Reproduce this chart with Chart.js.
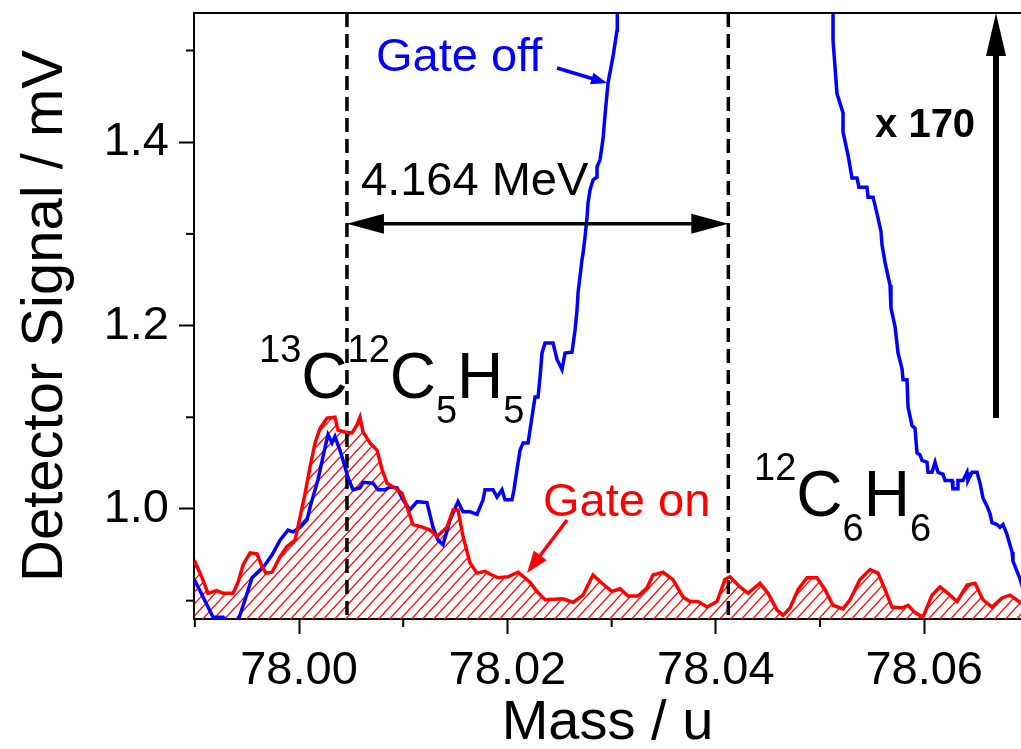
<!DOCTYPE html>
<html>
<head>
<meta charset="utf-8">
<script src="https://cdn.jsdelivr.net/npm/chart.js@4.4.1/dist/chart.umd.min.js"></script>
<style>
html,body{margin:0;padding:0;background:#ffffff;}
#wrap{width:1021px;height:749px;position:relative;}
</style>
</head>
<body>
<div id="wrap"><canvas id="c" width="1021" height="749"></canvas></div>
<script>
// ---------- data ----------
const gateOnMass = [
  77.98995, 77.99066, 77.99127, 77.99210, 77.99271, 77.99367, 77.99415, 77.99463, 77.99530, 77.99597,
  77.99645, 77.99683, 77.99741, 77.99818, 77.99885, 77.99962, 78.00010, 78.00058, 78.00106, 78.00154,
  78.00202, 78.00269, 78.00345, 78.00374, 78.00441, 78.00509, 78.00557, 78.00585, 78.00614, 78.00681,
  78.00749, 78.00797, 78.00845, 78.00921, 78.00988, 78.01046, 78.01094, 78.01190, 78.01257, 78.01324,
  78.01420, 78.01478, 78.01526, 78.01574, 78.01641, 78.01708, 78.01785, 78.01852, 78.01910, 78.02006,
  78.02102, 78.02217, 78.02284, 78.02361, 78.02534, 78.02630, 78.02725, 78.02821, 78.02908, 78.03004,
  78.03081, 78.03157, 78.03253, 78.03340, 78.03397, 78.03493, 78.03589, 78.03685, 78.03752, 78.03829,
  78.03916, 78.04012, 78.04088, 78.04136, 78.04232, 78.04309, 78.04424, 78.04501, 78.04587, 78.04645,
  78.04712, 78.04789, 78.04875, 78.04971, 78.05048, 78.05125, 78.05221, 78.05288, 78.05384, 78.05480,
  78.05557, 78.05624, 78.05691, 78.05787, 78.05845, 78.05912, 78.05988, 78.06075, 78.06152, 78.06228,
  78.06315, 78.06411, 78.06488, 78.06564, 78.06651, 78.06747, 78.06823, 78.06935
];
const gateOnSignal = [
  0.944, 0.926, 0.908, 0.911, 0.908, 0.908, 0.920, 0.939, 0.952, 0.951,
  0.937, 0.930, 0.931, 0.948, 0.959, 0.966, 0.991, 1.017, 1.046, 1.072,
  1.088, 1.099, 1.100, 1.086, 1.084, 1.083, 1.092, 1.100, 1.084, 1.072,
  1.064, 1.043, 1.028, 1.023, 1.017, 0.999, 0.983, 0.980, 0.977, 0.970,
  0.980, 0.999, 0.999, 0.970, 0.941, 0.930, 0.932, 0.928, 0.925, 0.926,
  0.931, 0.920, 0.910, 0.901, 0.902, 0.898, 0.906, 0.928, 0.919, 0.910,
  0.913, 0.905, 0.905, 0.914, 0.928, 0.931, 0.923, 0.904, 0.899, 0.899,
  0.893, 0.899, 0.923, 0.926, 0.915, 0.908, 0.919, 0.908, 0.890, 0.884,
  0.892, 0.912, 0.925, 0.925, 0.912, 0.895, 0.891, 0.901, 0.923, 0.934,
  0.930, 0.912, 0.893, 0.892, 0.895, 0.887, 0.882, 0.906, 0.915, 0.908,
  0.899, 0.917, 0.919, 0.901, 0.893, 0.903, 0.906, 0.897
];

const gateOffMass = [
  77.98995, 77.99079, 77.99175, 77.99271, 77.99319, 77.99415, 77.99482, 77.99549, 77.99597, 77.99655,
  77.99741, 77.99818, 77.99894, 77.99942, 78.00010, 78.00077, 78.00106, 78.00144, 78.00182, 78.00230,
  78.00278, 78.00317, 78.00345, 78.00393, 78.00441, 78.00470, 78.00518, 78.00585, 78.00614, 78.00710,
  78.00758, 78.00825, 78.00873, 78.00941, 78.00998, 78.01065, 78.01132, 78.01228, 78.01286, 78.01334,
  78.01382, 78.01449, 78.01526, 78.01574, 78.01641, 78.01708, 78.01766, 78.01785, 78.01862, 78.01900,
  78.01948, 78.01977, 78.02044, 78.02063, 78.02092, 78.02121, 78.02150, 78.02198, 78.02217, 78.02246,
  78.02265, 78.02294, 78.02313, 78.02332, 78.02361, 78.02438, 78.02476, 78.02524, 78.02553, 78.02620,
  78.02649, 78.02668, 78.02678, 78.02716, 78.02726, 78.02745, 78.02764, 78.02774, 78.02793, 78.02822,
  78.02860, 78.02860, 78.02889, 78.02918, 78.02937, 78.02966, 78.03013, 78.03052, 78.03052, 78.03057,
  78.04000,
  78.05115, 78.05125, 78.05125, 78.05163, 78.05221, 78.05221, 78.05269, 78.05307, 78.05355, 78.05374,
  78.05451, 78.05461, 78.05509, 78.05547, 78.05585, 78.05595, 78.05624, 78.05672, 78.05681, 78.05720,
  78.05749, 78.05787, 78.05797, 78.05835, 78.05845, 78.05883, 78.05912, 78.05931, 78.05960, 78.05979,
  78.06027, 78.06037, 78.06075, 78.06104, 78.06133, 78.06180, 78.06200, 78.06267, 78.06276, 78.06315,
  78.06324, 78.06372, 78.06411, 78.06420, 78.06459, 78.06507, 78.06536, 78.06564, 78.06603, 78.06631,
  78.06651, 78.06699, 78.06727, 78.06756, 78.06795, 78.06843, 78.06852, 78.06891, 78.06919, 78.06967
];
const gateOffSignal = [
  0.923, 0.904, 0.882, 0.882, 0.878, 0.878, 0.901, 0.925, 0.930, 0.936,
  0.950, 0.966, 0.977, 0.975, 0.980, 0.988, 1.002, 1.017, 1.032, 1.057,
  1.081, 1.072, 1.079, 1.064, 1.046, 1.034, 1.021, 1.023, 1.029, 1.028,
  1.021, 1.021, 1.024, 1.023, 1.010, 0.999, 1.008, 1.007, 0.980, 0.966,
  0.961, 0.988, 1.008, 0.997, 0.997, 0.994, 1.010, 1.021, 1.021, 1.013,
  1.021, 1.010, 1.010, 1.021, 1.043, 1.064, 1.072, 1.072, 1.086, 1.108,
  1.122, 1.122, 1.144, 1.170, 1.181, 1.181, 1.163, 1.152, 1.170, 1.171,
  1.195, 1.217, 1.236, 1.272, 1.279, 1.297, 1.318, 1.334, 1.348, 1.359,
  1.362, 1.373, 1.381, 1.404, 1.430, 1.465, 1.493, 1.522, 1.541, 1.560,
  null,
  1.560, 1.540, 1.511, 1.453, 1.432, 1.411, 1.386, 1.361, 1.361, 1.351,
  1.351, 1.340, 1.340, 1.322, 1.303, 1.288, 1.269, 1.244, 1.219, 1.199,
  1.170, 1.153, 1.141, 1.141, 1.111, 1.091, 1.088, 1.061, 1.059, 1.053,
  1.051, 1.040, 1.040, 1.051, 1.040, 1.038, 1.031, 1.031, 1.022, 1.022,
  1.031, 1.031, 1.040, 1.031, 1.040, 1.040, 1.028, 1.012, 1.003, 0.995,
  0.985, 0.983, 0.980, 0.983, 0.972, 0.953, 0.943, 0.932, 0.924, 0.906
];

const xTickLabels = ['78.00', '78.02', '78.04', '78.06'];
const yTickLabels = ['1.0', '1.2', '1.4'];
const markerMass = [78.0046, 78.0412];   // dashed vertical lines

// ---------- styling ----------
const FONT = "'Liberation Sans', Arial, Helvetica, sans-serif";
Chart.defaults.font.family = FONT;
Chart.defaults.color = '#000';

const ann = {
  mevArrowY: 1.311,
  mevText: { x: 78.00595, y: 1.3424, text: '4.164 MeV' },
  gateOff: { x: 78.00739, y: 1.4776, text: 'Gate off', from: [78.02476, 1.4809], to: [78.02956, 1.4646] },
  gateOn: { x: 78.02342, y: 0.9924, text: 'Gate on', from: [78.02572, 0.9880], to: [78.02188, 0.9302] },
  factor: { x: 78.06689, y0: 1.0992, y1: 1.5409, text: 'x 170', tx: 78.05528, ty: 1.4057 },
  f1: { x: 77.99616, y: 1.1210, parts: [['13', 'sup'], ['C', ''], ['12', 'sup'], ['C', ''], ['5', 'sub'], ['H', ''], ['5', 'sub']] },
  f2: { x: 78.04367, y: 0.9924, parts: [['12', 'sup'], ['C', ''], ['6', 'sub'], ['H', ''], ['6', 'sub']] }
};

const canvas = document.getElementById('c');
const ctx0 = canvas.getContext('2d');

function makeHatch() {
  const w = 11, h = 12;
  const c = document.createElement('canvas');
  c.width = w; c.height = h;
  const g = c.getContext('2d');
  g.strokeStyle = '#ff0000';
  g.lineWidth = 1.2;
  for (const k of [-1, 0, 1]) {
    g.beginPath();
    g.moveTo(-1, h + k * h + h / w);
    g.lineTo(w + 1, k * h - h / w);
    g.stroke();
  }
  return ctx0.createPattern(c, 'repeat');
}

const gateOn = gateOnMass.map((m, i) => ({ x: m, y: gateOnSignal[i] }));
const gateOff = gateOffMass.map((m, i) => ({ x: m, y: gateOffSignal[i] }));

const isMajorX = v => xTickLabels.includes((Math.round(v * 100) / 100).toFixed(2));
const isMajorY = v => yTickLabels.includes((Math.round(v * 10) / 10).toFixed(1));

function arrowHead(ctx, x1, y1, x2, y2, len, half) {
  const a = Math.atan2(y2 - y1, x2 - x1);
  const bx = x2 - Math.cos(a) * len, by = y2 - Math.sin(a) * len;
  ctx.beginPath();
  ctx.moveTo(x2, y2);
  ctx.lineTo(bx + Math.sin(a) * half, by - Math.cos(a) * half);
  ctx.lineTo(bx - Math.sin(a) * half, by + Math.cos(a) * half);
  ctx.closePath();
  ctx.fill();
  return [bx, by];
}

function arrow(ctx, x1, y1, x2, y2, lw, len, half, color) {
  ctx.strokeStyle = color; ctx.fillStyle = color; ctx.lineWidth = lw; ctx.setLineDash([]);
  const [bx, by] = arrowHead(ctx, x1, y1, x2, y2, len, half);
  const a = Math.atan2(y2 - y1, x2 - x1);
  ctx.beginPath();
  ctx.moveTo(x1, y1);
  ctx.lineTo(bx + Math.cos(a) * 2, by + Math.sin(a) * 2);
  ctx.stroke();
}

function drawFormula(ctx, f, xs, ys) {
  let cx = xs.getPixelForValue(f.x);
  const base = ys.getPixelForValue(f.y);
  ctx.fillStyle = '#000';
  ctx.textBaseline = 'alphabetic';
  ctx.textAlign = 'left';
  for (const [t, kind] of f.parts) {
    ctx.font = (kind ? '38px ' : '64px ') + FONT;
    const dy = kind === 'sup' ? -36 : (kind === 'sub' ? 25 : 0);
    ctx.fillText(t, cx, base + dy);
    cx += ctx.measureText(t).width;
  }
}

const annotPlugin = {
  id: 'annot',
  beforeDatasetsDraw(chart) {
    const { ctx, chartArea: a, scales: { x } } = chart;
    ctx.save();
    ctx.strokeStyle = '#000';
    ctx.lineWidth = 3.5;
    ctx.setLineDash([14, 7]);
    for (const m of markerMass) {
      const px = x.getPixelForValue(m);
      ctx.beginPath();
      ctx.moveTo(px, a.top);
      ctx.lineTo(px, a.bottom);
      ctx.stroke();
    }
    ctx.restore();
  },
  afterDatasetsDraw(chart) {
    const { ctx, chartArea: a, scales: { x, y } } = chart;
    ctx.save();
    // top frame line
    ctx.strokeStyle = '#000'; ctx.lineWidth = 2; ctx.setLineDash([]);
    ctx.beginPath(); ctx.moveTo(a.left - 1, a.top); ctx.lineTo(a.right, a.top); ctx.stroke();

    // minor ticks
    ctx.lineWidth = 2;
    for (const t of x.ticks) {
      if (!isMajorX(t.value)) {
        const px = x.getPixelForValue(t.value);
        ctx.beginPath(); ctx.moveTo(px, a.bottom); ctx.lineTo(px, a.bottom + 8); ctx.stroke();
      }
    }
    for (const t of y.ticks) {
      if (!isMajorY(t.value)) {
        const py = y.getPixelForValue(t.value);
        ctx.beginPath(); ctx.moveTo(a.left - 8, py); ctx.lineTo(a.left, py); ctx.stroke();
      }
    }

    // double arrow 4.164 MeV
    const xL = x.getPixelForValue(markerMass[0]), xR = x.getPixelForValue(markerMass[1]);
    const yA = y.getPixelForValue(ann.mevArrowY);
    ctx.fillStyle = '#000'; ctx.strokeStyle = '#000'; ctx.lineWidth = 3.5;
    ctx.beginPath(); ctx.moveTo(xL + 30, yA); ctx.lineTo(xR - 30, yA); ctx.stroke();
    arrowHead(ctx, xR, yA, xL, yA, 37, 10);
    arrowHead(ctx, xL, yA, xR, yA, 37, 10);

    ctx.textAlign = 'left'; ctx.textBaseline = 'alphabetic';
    ctx.font = '47px ' + FONT;
    ctx.fillStyle = '#000';
    ctx.fillText(ann.mevText.text, x.getPixelForValue(ann.mevText.x), y.getPixelForValue(ann.mevText.y));

    // Gate off
    ctx.fillStyle = '#0000ff';
    ctx.fillText(ann.gateOff.text, x.getPixelForValue(ann.gateOff.x), y.getPixelForValue(ann.gateOff.y));
    arrow(ctx, x.getPixelForValue(ann.gateOff.from[0]), y.getPixelForValue(ann.gateOff.from[1]),
          x.getPixelForValue(ann.gateOff.to[0]), y.getPixelForValue(ann.gateOff.to[1]), 3.5, 16, 6, '#0000ff');

    // Gate on
    ctx.fillStyle = '#ff0000';
    ctx.fillText(ann.gateOn.text, x.getPixelForValue(ann.gateOn.x), y.getPixelForValue(ann.gateOn.y));
    arrow(ctx, x.getPixelForValue(ann.gateOn.from[0]), y.getPixelForValue(ann.gateOn.from[1]),
          x.getPixelForValue(ann.gateOn.to[0]), y.getPixelForValue(ann.gateOn.to[1]), 3.5, 22, 8, '#ff0000');

    // x 170
    const fx = x.getPixelForValue(ann.factor.x);
    arrow(ctx, fx, y.getPixelForValue(ann.factor.y0), fx, y.getPixelForValue(ann.factor.y1), 6, 43, 10, '#000');
    ctx.fillStyle = '#000';
    ctx.font = 'bold 40px ' + FONT;
    ctx.fillText(ann.factor.text, x.getPixelForValue(ann.factor.tx), y.getPixelForValue(ann.factor.ty));

    // formulas
    drawFormula(ctx, ann.f1, x, y);
    drawFormula(ctx, ann.f2, x, y);
    ctx.restore();
  }
};

function noPad(s) {
  s.paddingTop = 0; s.paddingBottom = 0; s.paddingLeft = 0; s.paddingRight = 0;
}

new Chart(ctx0, {
  type: 'line',
  data: {
    datasets: [
      {
        label: 'Gate on',
        data: gateOn,
        borderColor: '#ff0000',
        borderWidth: 3.5,
        pointRadius: 0,
        tension: 0,
        fill: 'start',
        backgroundColor: makeHatch()
      },
      {
        label: 'Gate off',
        data: gateOff,
        borderColor: '#0000ff',
        borderWidth: 3.5,
        pointRadius: 0,
        tension: 0,
        spanGaps: false,
        fill: false
      }
    ]
  },
  options: {
    responsive: false,
    animation: false,
    devicePixelRatio: 1,
    layout: { padding: { top: 13, right: 0, bottom: 0, left: 0 } },
    plugins: {
      legend: { display: false },
      tooltip: { enabled: false },
      filler: { drawTime: 'beforeDatasetsDraw' }
    },
    scales: {
      x: {
        type: 'linear',
        min: 77.98992,
        max: 78.06929,
        afterFit(s) { s.height = 130; noPad(s); },
        border: { display: true, color: '#000', width: 2 },
        grid: {
          display: true, drawOnChartArea: false, drawTicks: true, tickLength: 15, tickWidth: 2,
          tickColor: c => (c.tick && isMajorX(c.tick.value)) ? '#000' : 'rgba(0,0,0,0)'
        },
        ticks: {
          stepSize: 0.01, includeBounds: false, autoSkip: false, maxRotation: 0, minRotation: 0,
          padding: 9, color: '#000', font: { size: 47 },
          callback: v => isMajorX(v) ? (Math.round(v * 100) / 100).toFixed(2) : ''
        },
        title: { display: true, text: 'Mass / u', color: '#000', font: { size: 56, lineHeight: 0.9 }, padding: 0 }
      },
      y: {
        type: 'linear',
        min: 0.880,
        max: 1.5409,
        afterFit(s) { s.width = 194; noPad(s); },
        border: { display: true, color: '#000', width: 2 },
        grid: {
          display: true, drawOnChartArea: false, drawTicks: true, tickLength: 15, tickWidth: 2,
          tickColor: c => (c.tick && isMajorY(c.tick.value)) ? '#000' : 'rgba(0,0,0,0)'
        },
        ticks: {
          stepSize: 0.1, includeBounds: false, autoSkip: false,
          padding: 10, color: '#000', font: { size: 47 },
          callback: v => isMajorY(v) ? (Math.round(v * 10) / 10).toFixed(1) : ''
        },
        title: { display: true, text: 'Detector Signal / mV', color: '#000', font: { size: 58 }, padding: { top: 11, bottom: 0 } }
      }
    }
  },
  plugins: [annotPlugin]
});
</script>
</body>
</html>
